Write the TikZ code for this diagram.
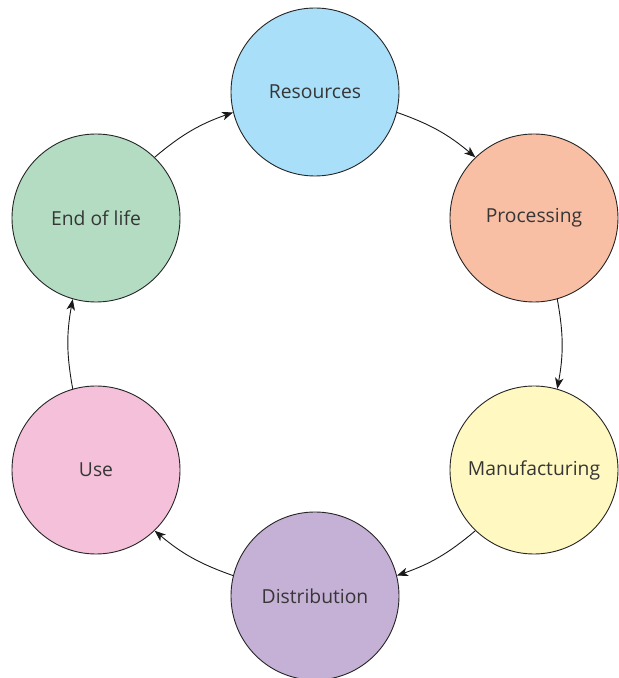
\documentclass[tikz,border=0pt]{standalone}
\usepackage{fontspec}
\setmainfont{Open Sans}
\usetikzlibrary{arrows.meta}
\definecolor{cres}{HTML}{A9DFF8}
\definecolor{cproc}{HTML}{F9BFA5}
\definecolor{cman}{HTML}{FFF8C1}
\definecolor{cdist}{HTML}{C5B0D6}
\definecolor{cuse}{HTML}{F5C1DA}
\definecolor{cend}{HTML}{B3DCC3}
\definecolor{ctext}{HTML}{363636}
\begin{document}
\begin{tikzpicture}[x=1pt,y=1pt,
  stage/.style={circle, draw=black!85, line width=0.9pt, minimum size=168pt, inner sep=0pt,
    text=ctext, font=\fontsize{19.3}{22}\selectfont},
  flow/.style={line width=0.9pt, draw=black!90, -{Stealth[length=11pt,width=8.5pt,inset=3pt]}, bend left=10.4}]
\useasboundingbox (0,0) rectangle (619,678);
\node[stage, fill=cres]  (res)  at (315,586) {Resources};
\node[stage, fill=cproc] (proc) at (534,460) {Processing};
\node[stage, fill=cman]  (man)  at (534,208) {Manufacturing};
\node[stage, fill=cdist] (dist) at (315,82)  {Distribution};
\node[stage, fill=cuse]  (use)  at (96,208)  {Use};
\node[stage, fill=cend]  (eol)  at (96,460)  {End of life};
% hexagon angles: res 90, proc 30, man -30, dist -90, use -150, eol 150
\draw[flow] (res.-14)   to (proc.134);
\draw[flow] (proc.-74)  to (man.74);
\draw[flow] (man.-134)  to (dist.14);
\draw[flow] (dist.166)  to (use.-46);
\draw[flow] (use.106)   to (eol.-106);
\draw[flow] (eol.46)    to (res.194);
\end{tikzpicture}
\end{document}
